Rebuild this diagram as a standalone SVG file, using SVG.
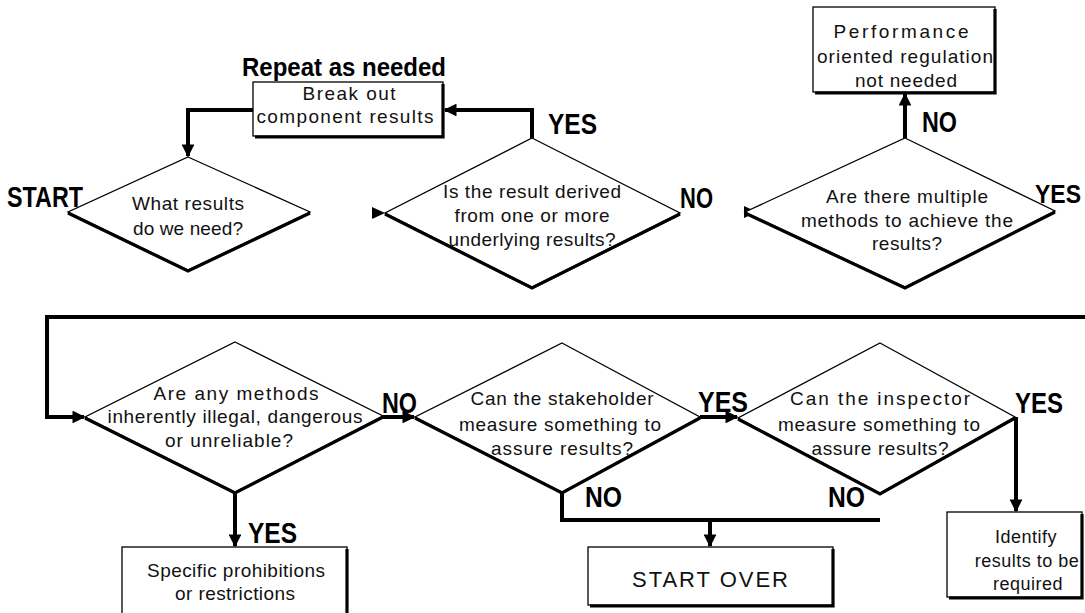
<svg xmlns="http://www.w3.org/2000/svg" width="1085" height="613" viewBox="0 0 1085 613">
<style>
.bg{fill:#fff}
.dia{fill:#fff;stroke:#000;stroke-width:1.3}
.sh{fill:none;stroke:#000;stroke-width:3.2;stroke-linejoin:miter}
.box{fill:#fff;stroke:#000;stroke-width:1.3}
.t{font-family:"Liberation Sans",Arial,sans-serif;font-size:19px;fill:#111;text-anchor:middle}
.lb{font-family:"Liberation Sans",Arial,sans-serif;font-size:29px;font-weight:bold;fill:#000}
.c{fill:none;stroke:#000;stroke-width:4;stroke-linejoin:miter}
</style>
<defs>
<marker id="ah" viewBox="0 0 10 10" refX="9" refY="5" markerWidth="3.2" markerHeight="3.2" orient="auto" markerUnits="strokeWidth">
<path d="M0,0 L10,5 L0,10 z" fill="#000"/>
</marker>
</defs>
<rect class="bg" x="0" y="0" width="1085" height="613"/>

<g id="connectors">
<polyline class="c" points="253,110 188,110 188,156" marker-end="url(#ah)"/>
<polyline class="c" points="532,138 532,110 445,110" marker-end="url(#ah)"/>
<polygon points="372,207 385,213 372,219" fill="#000"/>
<polygon points="744,206 757,212 744,218" fill="#000"/>
<polyline class="c" points="905,138 905,94" marker-end="url(#ah)"/>
<polyline class="c" points="1085,317 47,317 47,417 84,417" marker-end="url(#ah)"/>
<polyline class="c" points="235,492 235,546" marker-end="url(#ah)"/>
<polyline class="c" points="383,417 414,417" marker-end="url(#ah)"/>
<polyline class="c" points="700,417 737,417" marker-end="url(#ah)"/>
<polyline class="c" points="562,492 562,520 880,520"/>
<polyline class="c" points="710,520 710,546" marker-end="url(#ah)"/>
<polyline class="c" points="1016,417 1016,511" marker-end="url(#ah)"/>
</g>

<g id="d1">
<polygon class="dia" points="188,157 310,212 188,270 68,212"/>
<polyline class="sh" points="68,213 188,271 310,213"/>
<text class="t" x="188" y="210" textLength="112">What results</text>
<text class="t" x="188" y="235" textLength="110">do we need?</text>
</g>

<g id="break">
<rect class="box" x="253" y="82" width="190" height="54"/>
<polyline class="sh" points="443,84 443,137 255,137"/>
<text class="t" x="349" y="100" textLength="93">Break out</text>
<text class="t" x="345" y="123" textLength="177">component results</text>
</g>

<g id="d2">
<polygon class="dia" points="532,138 680,213 532,287 385,213"/>
<polyline class="sh" points="385,214 532,288 680,214"/>
<text class="t" x="532" y="198" textLength="178">Is the result derived</text>
<text class="t" x="532" y="222" textLength="155">from one or more</text>
<text class="t" x="532" y="246" textLength="167">underlying results?</text>
</g>

<g id="d3">
<polygon class="dia" points="905,138 1055,211 905,287 745,212"/>
<polyline class="sh" points="745,213 905,288 1055,212"/>
<text class="t" x="907" y="203" textLength="162">Are there multiple</text>
<text class="t" x="907" y="227" textLength="212">methods to achieve the</text>
<text class="t" x="907" y="250" textLength="70">results?</text>
</g>

<g id="perf">
<rect class="box" x="813" y="7" width="182" height="85"/>
<polyline class="sh" points="995,9 995,93 815,93"/>
<text class="t" x="901" y="38" textLength="135">Performance</text>
<text class="t" x="905" y="63" textLength="176">oriented regulation</text>
<text class="t" x="906" y="87" textLength="102">not needed</text>
</g>

<g id="d4">
<polygon class="dia" points="235,342 383,416 235,492 85,417"/>
<polyline class="sh" points="85,418 235,493 383,417"/>
<text class="t" x="236" y="400" textLength="165">Are any methods</text>
<text class="t" x="235" y="423" textLength="255">inherently illegal, dangerous</text>
<text class="t" x="229" y="447" textLength="128">or unreliable?</text>
</g>

<g id="specific">
<rect class="box" x="122" y="547" width="225" height="70"/>
<polyline class="sh" points="347,549 347,613"/>
<text class="t" x="236" y="577" textLength="178">Specific prohibitions</text>
<text class="t" x="235" y="600" textLength="120">or restrictions</text>
</g>

<g id="d5">
<polygon class="dia" points="562,343 700,417 562,492 415,417"/>
<polyline class="sh" points="415,418 562,493 700,418"/>
<text class="t" x="562" y="405" textLength="183">Can the stakeholder</text>
<text class="t" x="560" y="431" textLength="202">measure something to</text>
<text class="t" x="562" y="455" textLength="142">assure results?</text>
</g>

<g id="startover">
<rect class="box" x="588" y="547" width="245" height="58"/>
<polyline class="sh" points="833,549 833,606 590,606"/>
<text class="t" x="710" y="587" style="font-size:22px" textLength="156">START OVER</text>
</g>

<g id="d6">
<polygon class="dia" points="880,343 1015,417 880,493 738,418"/>
<polyline class="sh" points="738,419 880,494 1015,418"/>
<text class="t" x="880" y="405" textLength="180">Can the inspector</text>
<text class="t" x="879" y="431" textLength="202">measure something to</text>
<text class="t" x="880" y="455" textLength="137">assure results?</text>
</g>

<g id="identify">
<rect class="box" x="947" y="512" width="135" height="85"/>
<polyline class="sh" points="1082,514 1082,598 949,598"/>
<text class="t" x="1026" y="543" style="font-size:18px;letter-spacing:0.5px">Identify</text>
<text class="t" x="1027" y="567" style="font-size:18px;letter-spacing:0.5px">results to be</text>
<text class="t" x="1028" y="590" style="font-size:18px;letter-spacing:0.5px">required</text>
</g>

<g id="labels">
<text class="lb" x="7" y="207" textLength="76" lengthAdjust="spacingAndGlyphs">START</text>
<text class="lb" x="242" y="76" style="font-size:26px" textLength="204" lengthAdjust="spacingAndGlyphs">Repeat as needed</text>
<text class="lb" x="548" y="134" textLength="49" lengthAdjust="spacingAndGlyphs">YES</text>
<text class="lb" x="680" y="208" textLength="33" lengthAdjust="spacingAndGlyphs">NO</text>
<text class="lb" x="922" y="132" textLength="35" lengthAdjust="spacingAndGlyphs">NO</text>
<text class="lb" x="1035" y="203" style="font-size:25px" textLength="46" lengthAdjust="spacingAndGlyphs">YES</text>
<text class="lb" x="382" y="413" textLength="35" lengthAdjust="spacingAndGlyphs">NO</text>
<text class="lb" x="248" y="543" textLength="49" lengthAdjust="spacingAndGlyphs">YES</text>
<text class="lb" x="698" y="412" textLength="50" lengthAdjust="spacingAndGlyphs">YES</text>
<text class="lb" x="585" y="507" textLength="37" lengthAdjust="spacingAndGlyphs">NO</text>
<text class="lb" x="1015" y="413" textLength="48" lengthAdjust="spacingAndGlyphs">YES</text>
<text class="lb" x="828" y="507" textLength="37" lengthAdjust="spacingAndGlyphs">NO</text>
</g>
</svg>
